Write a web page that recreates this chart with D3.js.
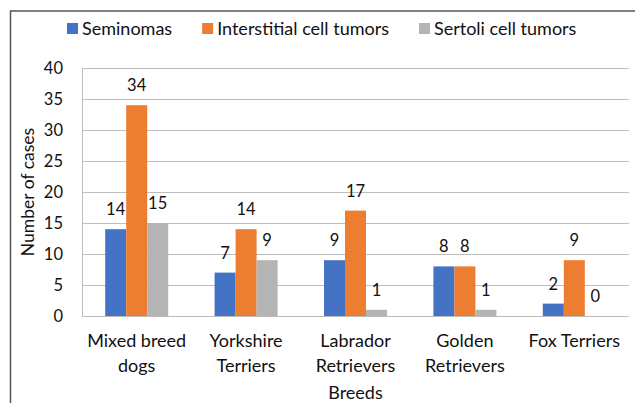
<!DOCTYPE html>
<html>
<head>
<meta charset="utf-8">
<script src="https://cdn.jsdelivr.net/npm/d3@7"></script>
<style>
  body { margin: 0; background: #fff; }
  text { font-family: Lato, "Open Sans", sans-serif; fill: #111; }
</style>
</head>
<body>
<div id="chart"></div>
<script>
// data
var breeds = [["Mixed breed", "dogs"], ["Yorkshire", "Terriers"], ["Labrador", "Retrievers"], ["Golden", "Retrievers"], ["Fox Terriers"]];
var seriesNames = ["Seminomas", "Interstitial cell tumors", "Sertoli cell tumors"];
var seminomas = [14, 7, 9, 8, 2];
var interstitial = [34, 14, 17, 8, 9];
var sertoli = [15, 9, 1, 1, 0];
var yTicks = [0, 5, 10, 15, 20, 25, 30, 35, 40];
var colors = ["#4472C4", "#ED7D31", "#B4B4B4"];

var W = 635, H = 403;
var margin = {top: 68, right: 6, bottom: 87, left: 82},
  width = W - margin.left - margin.right,
  height = H - margin.top - margin.bottom;

var svg = d3.select("#chart").append("svg")
  .attr("width", W)
  .attr("height", H);

// outer frame (only top and left visible)
svg.append("path")
  .attr("d", "M10.5,403V11H635")
  .attr("fill", "none")
  .attr("stroke", "#555")
  .attr("stroke-width", 1.5);

var g = svg.append("g")
  .attr("transform", "translate(" + margin.left + "," + margin.top + ")");

var keys = breeds.map(function (d) { return d.join(" "); });
var x = d3.scaleBand().domain(keys).range([0, width]).paddingInner(0).paddingOuter(0);
var x1 = d3.scaleBand().domain(seriesNames).range([0, 63]).padding(0);
var y = d3.scaleLinear().domain([0, 40]).range([height, 0]);

// gridlines
g.append("g")
  .selectAll("line")
  .data(yTicks)
  .enter().append("line")
  .attr("x1", 0)
  .attr("x2", width)
  .attr("y1", function (d) { return Math.round(y(d)) + 0.5; })
  .attr("y2", function (d) { return Math.round(y(d)) + 0.5; })
  .attr("stroke", "#bdbdbd")
  .attr("stroke-width", 1);

// left axis line
g.append("line")
  .attr("x1", 0.5).attr("x2", 0.5)
  .attr("y1", y(40)).attr("y2", y(0))
  .attr("stroke", "#bdbdbd");

// y tick labels
var yAxis = g.append("g")
  .call(d3.axisLeft(y).tickValues(yTicks).tickSize(0).tickPadding(19));
yAxis.select(".domain").remove();
yAxis.selectAll("text")
  .style("font-size", "16.5px")
  .style("font-family", "Lato, sans-serif")
  .attr("fill", "#111");

// bars
var rows = keys.map(function (k, i) {
  return {key: k, values: [seminomas[i], interstitial[i], sertoli[i]]};
});
var groups = g.selectAll(".grp")
  .data(rows)
  .enter().append("g")
  .attr("class", "grp")
  .attr("transform", function (d) {
    return "translate(" + (x(d.key) + x.bandwidth() / 2 - 31.5) + ",0)";
  });

groups.selectAll("rect")
  .data(function (d) { return d.values.map(function (v, j) { return {name: seriesNames[j], v: v, j: j}; }); })
  .enter().append("rect")
  .attr("x", function (d) { return x1(d.name); })
  .attr("width", x1.bandwidth())
  .attr("y", function (d) { return y(d.v); })
  .attr("height", function (d) { return y(0) - y(d.v); })
  .attr("fill", function (d) { return colors[d.j]; });

groups.selectAll(".val")
  .data(function (d) { return d.values.map(function (v, j) { return {name: seriesNames[j], v: v}; }); })
  .enter().append("text")
  .attr("class", "val")
  .attr("x", function (d) { return x1(d.name) + x1.bandwidth() / 2; })
  .attr("y", function (d) { return y(d.v) - 14; })
  .attr("text-anchor", "middle")
  .style("font-size", "16.5px")
  .text(function (d) { return d.v; });

// category labels
var cat = g.selectAll(".cat")
  .data(breeds)
  .enter().append("text")
  .attr("class", "cat")
  .attr("text-anchor", "middle")
  .attr("x", function (d) { return x(d.join(" ")) + x.bandwidth() / 2; })
  .attr("y", height + 31)
  .style("font-size", "18px");
cat.selectAll("tspan")
  .data(function (d) { return d; })
  .enter().append("tspan")
  .attr("x", function () { return this.parentNode.getAttribute("x"); })
  .attr("dy", function (d, i) { return i === 0 ? 0 : 25; })
  .text(function (d) { return d; });

// axis titles
svg.append("text")
  .attr("x", margin.left + width / 2)
  .attr("y", 398.5)
  .attr("text-anchor", "middle")
  .style("font-size", "18px")
  .text("Breeds");

svg.append("text")
  .attr("transform", "translate(33.5," + (margin.top + height / 2) + ") rotate(-90)")
  .attr("text-anchor", "middle")
  .style("font-size", "17.5px")
  .text("Number of cases");

// legend
var legend = svg.append("g").attr("transform", "translate(67,0)");
var lx = 0;
seriesNames.forEach(function (name, i) {
  var item = legend.append("g").attr("transform", "translate(" + lx + ",0)");
  item.append("rect")
    .attr("x", 0).attr("y", 23)
    .attr("width", 11).attr("height", 11)
    .attr("fill", colors[i]);
  var t = item.append("text")
    .attr("x", 15).attr("y", 34.5)
    .style("font-size", "18px")
    .text(name);
  lx += 15 + t.node().getComputedTextLength() + 30;
});
</script>
</body>
</html>
